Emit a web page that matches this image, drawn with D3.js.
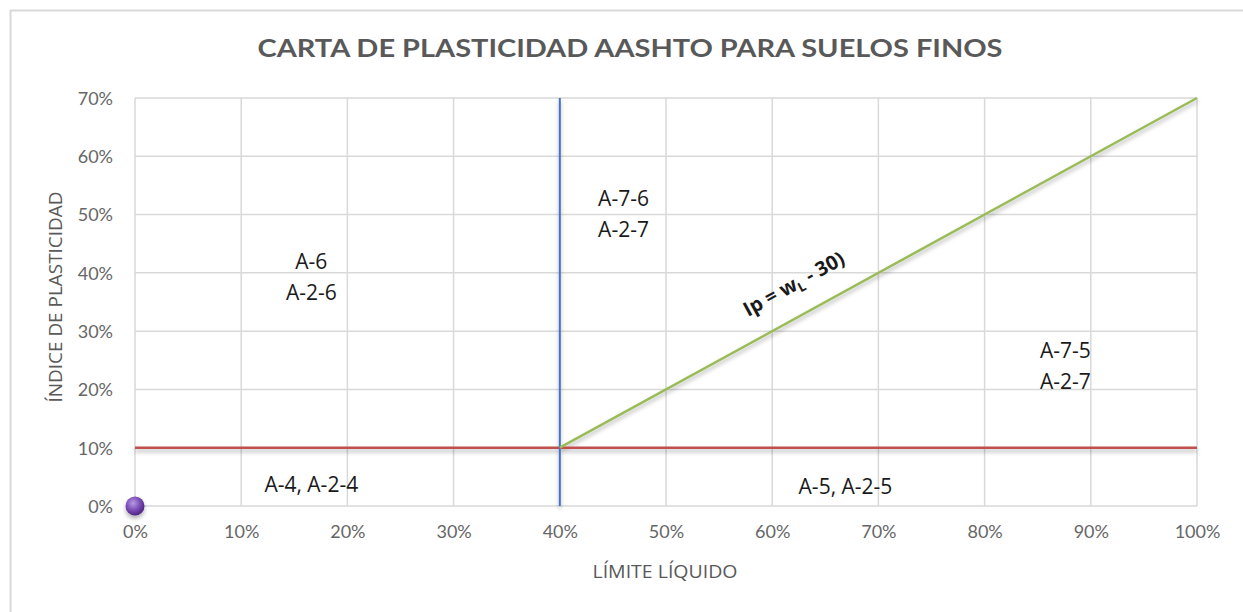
<!DOCTYPE html>
<html>
<head>
<meta charset="utf-8">
<script src="https://cdn.jsdelivr.net/npm/d3@7"></script>
<style>
  html, body { margin: 0; padding: 0; background: #fff; }
  svg { display: block; }
</style>
</head>
<body>
<svg id="chart" width="1243" height="612"></svg>
<script>
// Axis ticks (percent)
const xTicks = [0, 10, 20, 30, 40, 50, 60, 70, 80, 90, 100];
const yTicks = [0, 10, 20, 30, 40, 50, 60, 70];

// Boundary lines of the chart (liquid limit LL, plasticity index IP, in %)
const llLimit = [40];          // vertical line at LL = 40
const ipLimit = [10];          // horizontal line at IP = 10
const lineLL = [40, 100];      // Ip = wL - 30
const lineIP = [10, 70];

// Plotted sample point
const sampleLL = [0];
const sampleIP = [0];

// Zone labels (lines of text, anchor in data units)
const zoneLines = [["A-6", "A-2-6"], ["A-7-6", "A-2-7"], ["A-7-5", "A-2-7"], ["A-4, A-2-4"], ["A-5, A-2-5"]];
const zoneLL = [16.6, 46.0, 87.6, 16.6, 66.9];
const zoneIP = [40.7, 51.5, 25.4, 2.4, 2.1];

const svg = d3.select("#chart");
const W = 1243, H = 612;
const margin = { left: 135, right: 46, top: 98, bottom: 106 };

const x = d3.scaleLinear().domain([0, 100]).range([margin.left, W - margin.right]);
const y = d3.scaleLinear().domain([0, 70]).range([H - margin.bottom, margin.top]);

const defs = svg.append("defs");
const shadow = defs.append("filter").attr("id", "lineShadow")
  .attr("x", "-10%").attr("y", "-50%").attr("width", "120%").attr("height", "200%");
shadow.append("feDropShadow").attr("dx", 0).attr("dy", 3).attr("stdDeviation", 2)
  .attr("flood-color", "#000").attr("flood-opacity", 0.3);

const ballGrad = defs.append("radialGradient").attr("id", "ballGrad")
  .attr("cx", "40%").attr("cy", "35%").attr("r", "65%");
ballGrad.append("stop").attr("offset", "0%").attr("stop-color", "#b79be0");
ballGrad.append("stop").attr("offset", "55%").attr("stop-color", "#7d4fb8");
ballGrad.append("stop").attr("offset", "100%").attr("stop-color", "#4e2585");

// Outer chart frame
svg.append("rect").attr("x", 10.5).attr("y", 10.5).attr("width", W + 20).attr("height", H + 20)
  .attr("fill", "#fff").attr("stroke", "#d9d9d9").attr("stroke-width", 2);

// Title
svg.append("text").attr("x", 630).attr("y", 57).attr("text-anchor", "middle")
  .attr("font-family", "Lato, 'DejaVu Sans', sans-serif").attr("font-weight", "bold")
  .attr("font-size", 24).attr("fill", "#595959")
  .attr("textLength", 745).attr("lengthAdjust", "spacingAndGlyphs")
  .text("CARTA DE PLASTICIDAD AASHTO PARA SUELOS FINOS");

// Gridlines
const grid = svg.append("g").attr("stroke", "#d9d9d9").attr("stroke-width", 1.5);
grid.selectAll("line.v").data(xTicks).join("line")
  .attr("x1", d => x(d)).attr("x2", d => x(d)).attr("y1", y(0)).attr("y2", y(70));
grid.selectAll("line.h").data(yTicks).join("line")
  .attr("x1", x(0)).attr("x2", x(100)).attr("y1", d => y(d)).attr("y2", d => y(d));

// Axes (labels only)
const xAxis = svg.append("g").attr("transform", `translate(0,${y(0)})`)
  .call(d3.axisBottom(x).tickValues(xTicks).tickFormat(d => d + "%").tickSize(0).tickPadding(19));
const yAxis = svg.append("g").attr("transform", `translate(${x(0)},0)`)
  .call(d3.axisLeft(y).tickValues(yTicks).tickFormat(d => d + "%").tickSize(0).tickPadding(22));
[xAxis, yAxis].forEach(a => {
  a.select(".domain").remove();
  a.selectAll("text").attr("font-family", "Lato, 'Open Sans', sans-serif")
    .attr("font-size", 18).attr("fill", "#666");
});
yAxis.selectAll("text").attr("dy", "0.35em");

// Axis titles
svg.append("text").attr("x", 665).attr("y", 578).attr("text-anchor", "middle")
  .attr("font-family", "'Open Sans', sans-serif").attr("font-size", 18).attr("fill", "#595959")
  .attr("textLength", 145).attr("lengthAdjust", "spacingAndGlyphs")
  .text("LÍMITE LÍQUIDO");
svg.append("text").attr("transform", "translate(62,297) rotate(-90)").attr("text-anchor", "middle")
  .attr("font-family", "'Open Sans', sans-serif").attr("font-size", 18).attr("fill", "#595959")
  .attr("textLength", 211).attr("lengthAdjust", "spacingAndGlyphs")
  .text("ÍNDICE DE PLASTICIDAD");

// Boundary lines
const lines = svg.append("g").attr("filter", "url(#lineShadow)").attr("fill", "none");
lines.selectAll("line.ip").data(ipLimit).join("line")
  .attr("x1", x(0)).attr("x2", x(100)).attr("y1", d => y(d)).attr("y2", d => y(d))
  .attr("stroke", "#c0504d").attr("stroke-width", 2.5);
lines.selectAll("line.ll").data(llLimit).join("line")
  .attr("x1", d => x(d)).attr("x2", d => x(d)).attr("y1", y(0)).attr("y2", y(70))
  .attr("stroke", "#4472c4").attr("stroke-width", 2);
lines.append("path")
  .datum(d3.zip(lineLL, lineIP))
  .attr("d", d3.line().x(d => x(d[0])).y(d => y(d[1])))
  .attr("stroke", "#9bbb59").attr("stroke-width", 2.5);

// Sample point
svg.append("g").attr("filter", "url(#lineShadow)")
  .selectAll("circle").data(d3.zip(sampleLL, sampleIP)).join("circle")
  .attr("cx", d => x(d[0])).attr("cy", d => y(d[1])).attr("r", 9.5)
  .attr("fill", "url(#ballGrad)");

// Zone labels
const zones = svg.append("g").attr("font-family", "'Open Sans', sans-serif")
  .attr("font-size", 21).attr("fill", "#1a1a1a").attr("text-anchor", "middle");
zoneLines.forEach((ls, i) => {
  const t = zones.append("text").attr("x", x(zoneLL[i])).attr("y", y(zoneIP[i]));
  ls.forEach((s, j) => t.append("tspan").attr("x", x(zoneLL[i])).attr("dy", j === 0 ? 0 : 31).text(s));
});

// Equation label along the sloped boundary
const ang = Math.atan2(y(lineIP[1]) - y(lineIP[0]), x(lineLL[1]) - x(lineLL[0])) * 180 / Math.PI;
const eq = svg.append("text")
  .attr("transform", `translate(797,290) rotate(${ang})`)
  .attr("text-anchor", "middle")
  .attr("font-family", "'Open Sans', sans-serif").attr("font-weight", "bold")
  .attr("font-size", 20).attr("fill", "#1a1a1a");
eq.append("tspan").text("Ip = w");
eq.append("tspan").attr("font-size", 13).attr("dy", 4).text("L");
eq.append("tspan").attr("dy", -4).text(" - 30)");
</script>
</body>
</html>
